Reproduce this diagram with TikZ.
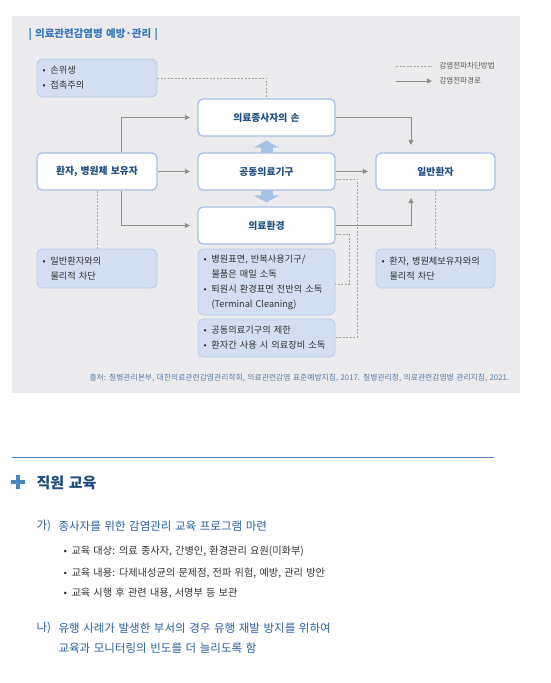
\documentclass[tikz,border=0pt]{standalone}
\usepackage{fontspec}
\setmainfont{Noto Sans CJK KR}[WordSpace=1.4]
\usetikzlibrary{arrows.meta}

\definecolor{panelgray}{HTML}{EBEBEE}
\definecolor{boxline}{HTML}{A8C0E6}
\definecolor{notefill}{HTML}{D3DEF0}
\definecolor{noteline}{HTML}{B8CBE8}
\definecolor{navy}{HTML}{1F4E82}
\definecolor{flowgray}{HTML}{8E8E8E}
\definecolor{dashgray}{HTML}{A3A3A3}
\definecolor{titleblue}{HTML}{3B77B8}
\definecolor{srcblue}{HTML}{5B7FA8}
\definecolor{textgray}{HTML}{333333}
\definecolor{ruleblue}{HTML}{4A86C4}
\definecolor{headnavy}{HTML}{1D4B7E}
\definecolor{itemblue}{HTML}{2B5F9E}

\newcommand{\bul}{\makebox[8pt][l]{•}}
\newcommand{\cont}{\hspace*{8pt}}

\tikzset{
  mainbox/.style={draw=boxline, fill=white, line width=1.3pt, rounded corners=5pt,
    minimum width=137pt, minimum height=37pt, text=navy,
    font=\fontsize{9.8}{11}\selectfont\bfseries},
  notebox/.style={draw=noteline, fill=notefill, line width=0.8pt, rounded corners=6pt,
    align=left, inner xsep=5.5pt, text=textgray,
    font=\fontsize{9.2}{15}\selectfont},
  flow/.style={draw=flowgray, line width=0.8pt, -{Triangle[width=5pt,length=5pt]},
    shorten >=7.5pt},
  block/.style={draw=dashgray, line width=0.8pt, dash pattern=on 2pt off 1.5pt},
  bigarrow/.style={draw=boxline, line width=12pt, -{Triangle[width=25pt,length=7pt]},
    shorten >=4pt},
}

\begin{document}
\begin{tikzpicture}[x=1pt, y=-1pt]
  \useasboundingbox (0,0) rectangle (550,683);

  % Panel and title
  \fill[panelgray] (12,16) rectangle (520,393);
  \node (title) [anchor=west, text=titleblue, font=\fontsize{10.5}{12}\selectfont\bfseries]
    at (25,34) {| 의료관련감염병 예방·관리 |};

  % Legend
  \coordinate (lgdashL) at (396,66);
  \coordinate (lgflowL) at (396,81);
  \node (lgdash) [anchor=west, text=textgray!80, font=\fontsize{7.5}{9}\selectfont]
    at (436,66) {감염전파차단방법};
  \node (lgflow) [anchor=west, text=textgray!80, font=\fontsize{7.5}{9}\selectfont]
    at (436,81) {감염전파경로};
  \draw[block, shorten >=4pt] (lgdashL) -- (lgdash.west);
  \draw[flow, shorten >=4pt] (lgflowL) -- (lgflow.west);

  % Main boxes
  \node[mainbox] (hand) at (266.5,117.5) {의료종사자의 손};
  \node[mainbox] (equip) at (266.5,171.5) {공동의료기구};
  \node[mainbox] (env) at (266.5,225.5) {의료환경};
  \node[mainbox, minimum width=120pt] (src) at (97,171.5) {환자, 병원체 보유자};
  \node[mainbox, minimum width=119pt] (pat) at (435.5,171.5) {일반환자};

  % Note boxes
  \node[notebox, text width=109pt, minimum height=38pt] (hygiene) at (97,78)
    {\bul 손위생\\\bul 접촉주의};
  \node[notebox, text width=109pt, minimum height=39pt] (barrierL) at (97,268.5)
    {\bul 일반환자와의\\\cont 물리적 차단};
  \node[notebox, text width=108pt, minimum height=39pt] (barrierR) at (435.5,268.5)
    {\mbox{\bul 환자, 병원체보유자와의}\\\cont 물리적 차단};
  \node[notebox, text width=126pt, minimum height=66pt] (envnote) at (266.5,282)
    {\mbox{\bul 병원표면, 반복사용기구/}\\\cont 물품은 매일 소독\\\mbox{\bul 퇴원시 환경표면 전반의 소독}\\\cont (Terminal Cleaning)};
  \node[notebox, text width=126pt, minimum height=38pt] (equipnote) at (266.5,338)
    {\bul 공동의료기구의 제한\\\mbox{\bul 환자간 사용 시 의료장비 소독}};

  % Transmission routes
  \draw[flow] ([xshift=24pt]src.north) |- (hand.west);
  \draw[flow] (src) -- (equip);
  \draw[flow] ([xshift=24pt]src.south) |- (env.west);
  \draw[flow] (hand.east) -| ([xshift=-24.5pt]pat.north);
  \draw[flow] (equip) -- (pat);
  \draw[flow] (env.east) -| ([xshift=-24.5pt]pat.south);

  % Spread from shared equipment
  \draw[bigarrow] ([yshift=-0.7pt]equip.north) -- (hand.south);
  \draw[bigarrow] ([yshift=0.7pt]equip.south) -- (env.north);

  % Blocking methods
  \draw[block] (hygiene.east) -| (hand.north);
  \draw[block] (src.south) -- (barrierL.north);
  \draw[block] (pat.south) -- (barrierR.north);
  \draw[block] ([yshift=-8.5pt]env.east) -| ([xshift=14pt,yshift=-2pt]envnote.east)
    -- ([yshift=-2pt]envnote.east);
  \draw[block] ([yshift=-7.5pt]equip.east) -| ([xshift=22pt,yshift=1pt]equipnote.east)
    -- ([yshift=1pt]equipnote.east);

  % Source
  \node (source) [anchor=west, text=srcblue, font=\fontsize{7.8}{9}\selectfont]
    at (86,378) {출처: 질병관리본부, 대한의료관련감염관리학회, 의료관련감염 표준예방지침, 2017. 질병관리청, 의료관련감염병 관리지침, 2021.};

  % Staff education section
  \draw[ruleblue, line width=0.8pt] (12,457) -- (494,457);
  \draw[ruleblue, line width=4.2pt] (11,482) -- (25,482) (18,475) -- (18,489);
  \node (head) [anchor=west, text=headnavy, font=\fontsize{15}{17}\selectfont\bfseries]
    at (33,483) {직원 교육};

  \node (itemA) [anchor=west, text=itemblue, font=\fontsize{11.5}{13}\selectfont]
    at (33,526) {가)};
  \node (itemAtext) [anchor=west, text=itemblue, font=\fontsize{11.5}{13}\selectfont]
    at (55,526) {종사자를 위한 감염관리 교육 프로그램 마련};
  \node (subA) [anchor=west, text=textgray, font=\fontsize{10.2}{12}\selectfont]
    at (60,551) {\bul 교육 대상: 의료 종사자, 간병인, 환경관리 요원(미화부)};
  \node (subB) [anchor=west, text=textgray, font=\fontsize{10.2}{12}\selectfont]
    at (60,573) {\bul 교육 내용: 다제내성균의 문제점, 전파 위험, 예방, 관리 방안};
  \node (subC) [anchor=west, text=textgray, font=\fontsize{10.2}{12}\selectfont]
    at (60,593) {\bul 교육 시행 후 관련 내용, 서명부 등 보관};

  \node (itemB) [anchor=west, text=itemblue, font=\fontsize{11.5}{13}\selectfont]
    at (33,628) {나)};
  \node (itemBtext) [anchor=north west, align=left, text=itemblue,
    font=\fontsize{11.5}{20}\selectfont] at (55,619)
    {유행 사례가 발생한 부서의 경우 유행 재발 방지를 위하여\\교육과 모니터링의 빈도를 더 늘리도록 함};
\end{tikzpicture}
\end{document}
